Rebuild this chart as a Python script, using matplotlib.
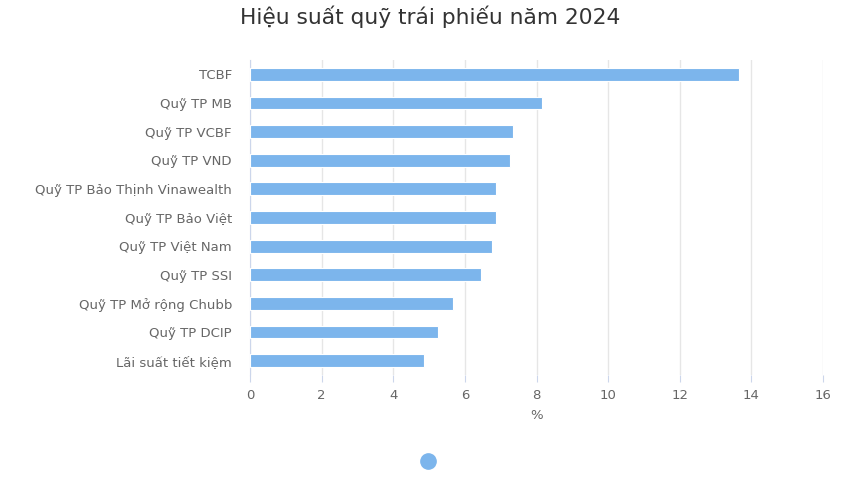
import numpy as np
import matplotlib.pyplot as plt
from matplotlib.lines import Line2D

plt.rcParams['font.family'] = ['DejaVu Sans']

title = 'Hiệu suất quỹ trái phiếu năm 2024'
funds = ['TCBF', 'Quỹ TP MB', 'Quỹ TP VCBF', 'Quỹ TP VND',
         'Quỹ TP Bảo Thịnh Vinawealth', 'Quỹ TP Bảo Việt', 'Quỹ TP Việt Nam',
         'Quỹ TP SSI', 'Quỹ TP Mở rộng Chubb', 'Quỹ TP DCIP', 'Lãi suất tiết kiệm']
returns = [13.65, 8.15, 7.35, 7.25, 6.87, 6.87, 6.76, 6.44, 5.68, 5.26, 4.87]
xticks = [0, 2, 4, 6, 8, 10, 12, 14, 16]

bar_color = '#7cb5ec'

fig = plt.figure(figsize=(8.67, 4.88), dpi=100)
ax = fig.add_axes([250 / 867, 1 - 375 / 488, 573 / 867, 315 / 488])

y = np.arange(len(funds))
ax.barh(y, returns, height=0.45, color=bar_color, edgecolor='white', linewidth=0.8, zorder=3)
ax.set_ylim(len(funds) - 0.5, -0.5)
ax.set_xlim(0, 16)
ax.set_yticks(y)
ax.set_yticklabels(funds, fontsize=9.5, color='#666666')
ax.set_xticks(xticks)
ax.set_xticklabels([str(t) for t in xticks], fontsize=9.5, color='#666666')
ax.tick_params(axis='y', length=0, pad=13)
ax.tick_params(axis='x', length=5, color='#ccd6eb', pad=5, direction='out')

ax.grid(axis='x', color='#e6e6e6', linewidth=1, zorder=0)
for s in ['top', 'right', 'bottom']:
    ax.spines[s].set_visible(False)
ax.spines['left'].set_color('#ccd6eb')

ax.set_xlabel('%', fontsize=9.5, color='#666666', labelpad=5)

fig.text(430 / 867, 1 - 17 / 488, title, ha='center', va='center', fontsize=15.7, color='#333333')

handle = Line2D([], [], marker='o', linestyle='none', markersize=11, color=bar_color)
fig.legend(handles=[handle], labels=[''], loc='center',
           bbox_to_anchor=(428 / 867, 1 - 462 / 488), frameon=False,
           handletextpad=0, handlelength=1)

fig.savefig('out.png', dpi=100)
